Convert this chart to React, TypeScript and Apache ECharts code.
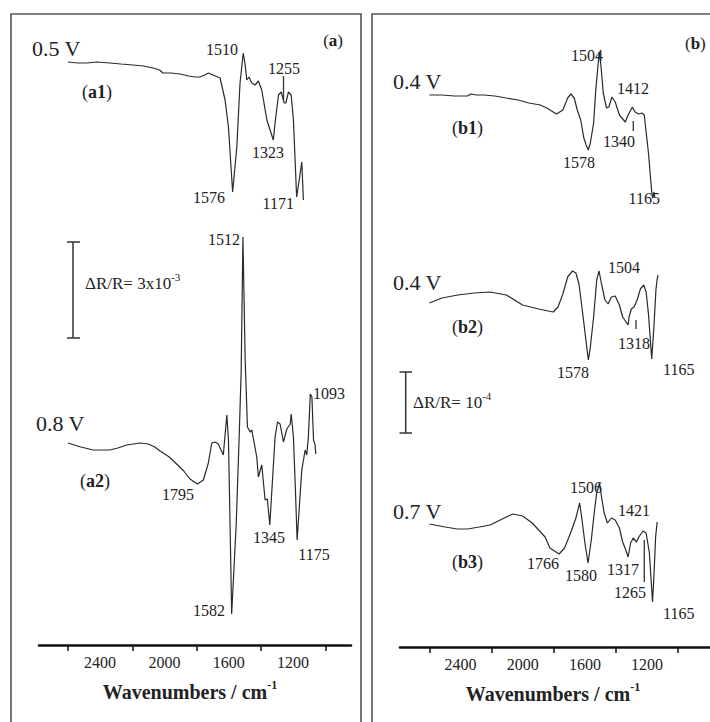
import React, { useEffect, useRef } from "react";
import * as echarts from "echarts";

// Spectra: [wavenumber (cm-1), relative signal (a.u., upward positive, 0 = start of trace)]
const a1Spectrum = [
  [2600, 0], [2540, -1], [2482, -1], [2420, 0], [2339, -1], [2270, -2], [2196, -3], [2130, -4], [2071, -6], [2030, -8],
  [2009, -11], [1960, -11], [1903, -12], [1850, -14], [1810, -15], [1779, -15], [1750, -13], [1727, -11], [1698, -13], [1654, -16],
  [1623, -38], [1602, -65], [1576, -130], [1550, -85], [1530, -21], [1510, 9], [1498, -3], [1488, -18], [1474, -15], [1457, -21],
  [1436, -23], [1416, -19], [1395, -28], [1363, -58], [1323, -78], [1312, -61], [1291, -33], [1274, -30], [1255, -41], [1245, -41],
  [1229, -30], [1212, -33], [1198, -58], [1178, -135], [1162, -118], [1146, -100], [1136, -138],
];
const a2Spectrum = [
  [2600, 0], [2520, -4], [2443, -7], [2339, -7], [2290, -5], [2235, -2], [2152, 0], [2100, -1], [2060, -4], [2027, -8],
  [1970, -14], [1924, -21], [1880, -28], [1841, -36], [1795, -41], [1758, -37], [1727, -20], [1706, 0], [1685, 1], [1665, -1],
  [1634, -12], [1612, 28], [1602, 3], [1592, -82], [1582, -171], [1554, -82], [1536, 3], [1523, 71], [1512, 206], [1498, 83],
  [1484, 16], [1467, 11], [1457, 13], [1426, -14], [1416, -34], [1395, -22], [1374, -57], [1360, -56], [1345, -82], [1312, 6],
  [1297, 21], [1281, 19], [1260, 1], [1239, 14], [1218, 19], [1212, 29], [1198, 6], [1186, -45], [1175, -97], [1146, -27],
  [1125, -7], [1115, -12], [1105, 6], [1093, 49], [1083, 46], [1073, 3], [1063, -2], [1059, -11],
];
const b1Spectrum = [
  [2600, 0], [2520, 0], [2440, -1], [2355, -1], [2334, 1], [2300, 0], [2251, 0], [2180, -1], [2106, -3], [2030, -5],
  [1960, -8], [1887, -10], [1846, -13], [1783, -19], [1742, -15], [1711, -3], [1690, 1], [1669, -3], [1649, -15], [1627, -25],
  [1607, -43], [1592, -50], [1578, -55], [1565, -48], [1544, -28], [1530, 5], [1508, 43], [1496, 28], [1482, 2], [1461, -13],
  [1446, -12], [1426, -2], [1405, -7], [1378, -20], [1340, -27], [1322, -20], [1295, -12], [1278, -17], [1253, -19], [1233, -18],
  [1218, -20], [1191, -58], [1170, -97], [1165, -103], [1156, -97], [1150, -102],
];
const b2Spectrum = [
  [2600, 0], [2521, 5], [2417, 8], [2313, 10], [2210, 11], [2106, 8], [2001, -2], [1898, -6], [1804, -9], [1773, -4],
  [1742, 9], [1711, 26], [1680, 32], [1658, 30], [1638, 19], [1617, -7], [1596, -34], [1578, -57], [1565, -44], [1544, -14],
  [1524, 23], [1509, 32], [1493, 19], [1471, 3], [1451, -1], [1430, 6], [1405, 7], [1378, -2], [1357, -14], [1322, -22],
  [1316, -14], [1301, -6], [1284, -4], [1264, 3], [1243, 14], [1222, 18], [1206, 11], [1191, -11], [1170, -56], [1156, -24],
  [1143, 13], [1135, 24], [1129, 28],
];
const b3Spectrum = [
  [2600, 0], [2500, -3], [2420, -5], [2355, -5], [2280, -3], [2210, -1], [2106, 7], [2064, 10], [2001, 8], [1939, 1],
  [1856, -13], [1825, -24], [1766, -30], [1731, -24], [1690, -8], [1658, 6], [1634, 21], [1621, 7], [1600, -19], [1580, -39],
  [1559, -16], [1538, 14], [1524, 31], [1506, 41], [1493, 27], [1476, 11], [1455, 1], [1430, 6], [1405, 4], [1378, -4],
  [1357, -18], [1337, -26], [1322, -33], [1306, -19], [1289, -14], [1268, -18], [1253, -13], [1226, -7], [1206, -9], [1185, -29],
  [1165, -78], [1156, -53], [1145, -13], [1135, 2],
];

// Vertical stacking offsets of the traces (a.u.)
const traceOffsets = { a1: 583, a2: 202, b1: 552, b2: 344, b3: 123 };

const tickValues = [2600, 2200, 1800, 1400, 1000];
const tickLabels = [2400, 2000, 1600, 1200];

const FONT = "Liberation Serif";
const INK = "#222";

function shift(data: number[][], off: number) {
  return data.map(([w, v]) => [w, v + off]);
}

function txt(text: string, x: number, y: number, align: string, size = 16, extra: any = {}) {
  return {
    type: "text",
    silent: true,
    style: {
      text,
      x,
      y,
      textAlign: align,
      textVerticalAlign: "middle",
      fontSize: size,
      fontFamily: FONT,
      fill: INK,
      ...extra,
    },
  };
}

function rich(text: string, x: number, y: number, align: string, size: number, bold = false) {
  const w = bold ? "bold" : "normal";
  return {
    type: "text",
    silent: true,
    style: {
      text,
      x,
      y,
      textAlign: align,
      textVerticalAlign: "middle",
      fontFamily: FONT,
      fill: INK,
      fontSize: size,
      fontWeight: w,
      rich: {
        n: { fontSize: size, fontFamily: FONT, fontWeight: w, lineHeight: size + 6, verticalAlign: "middle" },
        b: { fontSize: size, fontFamily: FONT, fontWeight: "bold", lineHeight: size + 6, verticalAlign: "middle" },
        s: { fontSize: Math.round(size * 0.62), fontFamily: FONT, fontWeight: w, lineHeight: 10, verticalAlign: "top" },
      },
    },
  };
}

function seg(x1: number, y1: number, x2: number, y2: number, w = 1.3) {
  return {
    type: "line",
    silent: true,
    shape: { x1, y1, x2, y2 },
    style: { stroke: "#333", lineWidth: w },
  };
}

function xAxisFor(gridIndex: number, min: number, max: number) {
  return {
    type: "value",
    gridIndex,
    min,
    max,
    inverse: true,
    axisLine: { show: true, onZero: false, lineStyle: { color: "#111", width: 2.6 } },
    axisTick: {
      show: true,
      customValues: tickValues,
      length: 6,
      lineStyle: { color: "#111", width: 1.5 },
    },
    axisLabel: {
      customValues: tickLabels,
      formatter: (v: number) => String(v),
      margin: 9,
      fontSize: 16,
      fontFamily: FONT,
      color: INK,
    },
    splitLine: { show: false },
  };
}

function lineSeries(data: number[][], axis: number) {
  return {
    type: "line",
    xAxisIndex: axis,
    yAxisIndex: axis,
    data,
    symbol: "none",
    showSymbol: false,
    silent: true,
    lineStyle: { color: "#2a2a2a", width: 1.2 },
  };
}

export default function App() {
  const ref = useRef<HTMLDivElement>(null);
  useEffect(() => {
    if (!ref.current) return;
    const chart = echarts.init(ref.current, null, { renderer: "svg" });
    const graphic: any[] = [
      // panel frames
      { type: "rect", silent: true, shape: { x: 11, y: 14, width: 350, height: 720 }, style: { fill: "none", stroke: "#555", lineWidth: 1.6 } },
      { type: "rect", silent: true, shape: { x: 372, y: 14, width: 350, height: 720 }, style: { fill: "none", stroke: "#555", lineWidth: 1.6 } },

      // panel (a)
      rich("({b|a})", 343, 40, "right", 17),
      txt("0.5 V", 32, 48, "left", 22),
      rich("({b|a1})", 82, 92, "left", 18),
      txt("1510", 238, 49, "right"),
      txt("1255", 284, 68, "center"),
      seg(283.5, 76, 283.5, 100),
      txt("1323", 268, 152, "center"),
      txt("1576", 225, 197, "right"),
      txt("1171", 294, 203, "right"),
      txt("1512", 240, 239, "right"),
      seg(73, 242, 73, 338, 1.5),
      seg(67, 242, 80, 242, 1.5),
      seg(67, 338, 80, 338, 1.5),
      rich("{n|ΔR/R= 3x10}{s|-3}", 85, 283, "left", 17),
      txt("0.8 V", 36, 423, "left", 22),
      txt("1093", 313, 393, "left"),
      rich("({b|a2})", 80, 481, "left", 18),
      txt("1795", 178, 494, "center"),
      txt("1345", 269, 537, "center"),
      txt("1175", 314, 554, "center"),
      txt("1582", 225, 610, "right"),
      rich("{n|Wavenumbers / cm}{s|-1}", 190, 692, "center", 20, true),

      // panel (b)
      rich("({b|b})", 685, 43, "left", 17),
      txt("0.4 V", 393, 81, "left", 22),
      rich("({b|b1})", 452, 128, "left", 18),
      txt("1504", 603, 55, "right"),
      txt("1412", 617, 88, "left"),
      txt("1340", 603, 141, "left"),
      seg(633.3, 121, 633.3, 131),
      txt("1578", 563, 162, "left"),
      txt("1165", 660, 198, "right"),
      txt("0.4 V", 393, 282, "left", 22),
      txt("1504", 608, 267, "left"),
      rich("({b|b2})", 452, 327, "left", 18),
      txt("1318", 618, 343, "left"),
      seg(636, 320, 636, 329),
      txt("1578", 557, 372, "left"),
      txt("1165", 663, 369, "left"),
      seg(405.7, 372, 405.7, 433, 1.5),
      seg(399.5, 372, 412, 372, 1.5),
      seg(399.5, 433, 412, 433, 1.5),
      rich("{n|ΔR/R= 10}{s|-4}", 413, 402, "left", 17),
      txt("1506", 602, 487, "right"),
      txt("0.7 V", 393, 511, "left", 22),
      txt("1421", 618, 510, "left"),
      rich("({b|b3})", 452, 562, "left", 18),
      txt("1766", 527, 563, "left"),
      txt("1580", 565, 575, "left"),
      txt("1317", 607, 569, "left"),
      seg(644.3, 540, 644.3, 582),
      txt("1265", 614, 592, "left"),
      txt("1165", 663, 613, "left"),
      rich("{n|Wavenumbers / cm}{s|-1}", 553, 694, "center", 20, true),
    ];

    chart.setOption({
      animation: false,
      backgroundColor: "#fff",
      grid: [
        { left: 39, top: 14, width: 312, height: 631 },
        { left: 400, top: 14, width: 320, height: 633 },
      ],
      xAxis: [xAxisFor(0, 840, 2780), xAxisFor(1, 795, 2790)],
      yAxis: [
        { type: "value", gridIndex: 0, min: 0, max: 631, show: false },
        { type: "value", gridIndex: 1, min: 0, max: 633, show: false },
      ],
      series: [
        lineSeries(shift(a1Spectrum, traceOffsets.a1), 0),
        lineSeries(shift(a2Spectrum, traceOffsets.a2), 0),
        lineSeries(shift(b1Spectrum, traceOffsets.b1), 1),
        lineSeries(shift(b2Spectrum, traceOffsets.b2), 1),
        lineSeries(shift(b3Spectrum, traceOffsets.b3), 1),
      ],
      graphic,
    });
    return () => chart.dispose();
  }, []);
  return (
    <div
      ref={ref}
      style={{ position: "fixed", left: 0, top: 0, width: 710, height: 722, background: "#fff" }}
    />
  );
}
